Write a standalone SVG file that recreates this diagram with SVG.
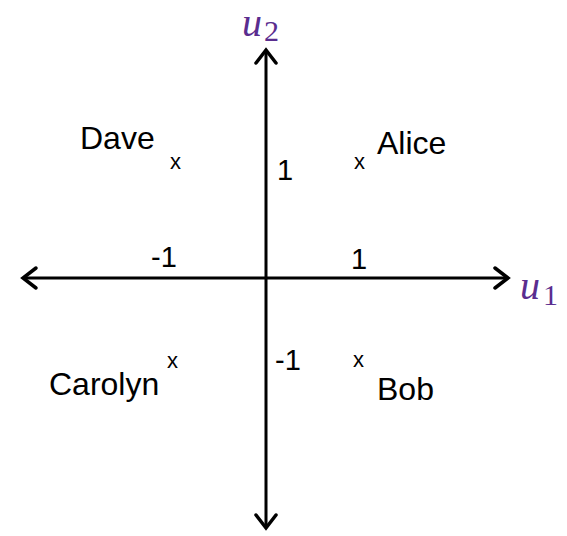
<svg xmlns="http://www.w3.org/2000/svg" width="567" height="536" viewBox="0 0 567 536">
<style>
.ax{stroke:#000;stroke-width:3;fill:none}
.ah{stroke:#000;stroke-width:3.5;fill:none;stroke-linecap:round;stroke-linejoin:miter}
.nm{font-family:"Liberation Sans",Arial,sans-serif;font-size:32px;fill:#000}
.num{font-family:"Liberation Sans",Arial,sans-serif;font-size:29px;fill:#000}
.mk{font-family:"Liberation Sans",Arial,sans-serif;font-size:22px;fill:#000}
.lab{font-family:"Liberation Serif","Times New Roman",serif;font-style:italic;font-size:40px;fill:#5a2d8f}
.sub{font-family:"Liberation Serif","Times New Roman",serif;font-size:30px;fill:#5a2d8f}
</style>
<rect width="567" height="536" fill="#fff"/>
<g id="connectors">
<line class="ax" x1="266" y1="50" x2="266" y2="528"/>
<line class="ax" x1="23" y1="278" x2="508" y2="278"/>
<polyline class="ah" points="256,63 266,50 276,63"/>
<polyline class="ah" points="256,515 266,528 276,515"/>
<polyline class="ah" points="36,268 23,278 36,288"/>
<polyline class="ah" points="495,268 508,278 495,288"/>
</g>
<g id="u2"><text class="lab" x="242" y="36">u</text><text class="sub" x="264" y="41">2</text></g>
<g id="u1"><text class="lab" x="520" y="299">u</text><text class="sub" x="543" y="305">1</text></g>
<g id="ticks">
<text class="num" x="277" y="180">1</text>
<text class="num" x="151" y="267">-1</text>
<text class="num" x="351" y="269">1</text>
<text class="num" x="275" y="370">-1</text>
</g>
<g id="dave"><text class="nm" x="80" y="149">Dave</text><text class="mk" x="170" y="169">x</text></g>
<g id="alice"><text class="nm" x="377" y="154">Alice</text><text class="mk" x="354" y="169">x</text></g>
<g id="carolyn"><text class="nm" x="49" y="395">Carolyn</text><text class="mk" x="167" y="368">x</text></g>
<g id="bob"><text class="nm" x="377" y="400">Bob</text><text class="mk" x="353" y="367">x</text></g>
</svg>
